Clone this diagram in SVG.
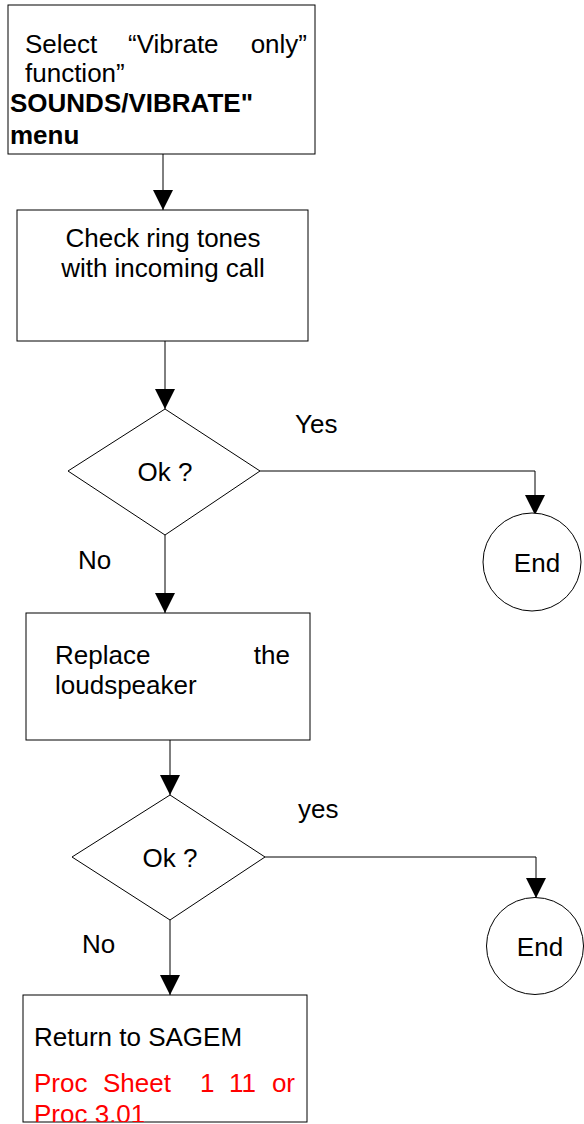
<svg xmlns="http://www.w3.org/2000/svg" width="584" height="1124" viewBox="0 0 584 1124">
<style>
.box{fill:#fff;stroke:#000;stroke-width:1}
.ln{fill:none;stroke:#000;stroke-width:1}
text{font-family:"Liberation Sans",Arial,sans-serif;font-size:26px;fill:#000}
.b{font-weight:bold}
.red{fill:#ff0000}
</style>
<defs>
<marker id="ah" markerUnits="userSpaceOnUse" markerWidth="22" markerHeight="22" viewBox="0 0 22 22" refX="20" refY="11" orient="auto">
<path d="M0,1 L20,11 L0,21 Z" fill="#000"/>
</marker>
<clipPath id="c4"><rect x="23" y="995" width="284" height="127"/></clipPath>
</defs>
<g id="connectors">
<path class="ln" d="M163,154 V210" marker-end="url(#ah)"/>
<path class="ln" d="M165,341 V409" marker-end="url(#ah)"/>
<path class="ln" d="M260,471 H535 V515" marker-end="url(#ah)"/>
<path class="ln" d="M165,535 V613" marker-end="url(#ah)"/>
<path class="ln" d="M170,740 V795" marker-end="url(#ah)"/>
<path class="ln" d="M265,857 H536 V898" marker-end="url(#ah)"/>
<path class="ln" d="M170,920 V995" marker-end="url(#ah)"/>
<text x="295" y="433">Yes</text>
<text x="78" y="569">No</text>
<text x="298" y="818">yes</text>
<text x="82" y="953">No</text>
</g>
<g id="n1">
<rect class="box" x="8" y="5" width="307" height="149"/>
<text x="25" y="53">Select</text>
<text x="128" y="53">“Vibrate</text>
<text x="307" y="53" text-anchor="end">only”</text>
<text x="25" y="82">function”</text>
<text class="b" x="10" y="112">SOUNDS/VIBRATE"</text>
<text class="b" x="10" y="144">menu</text>
</g>
<g id="n2">
<rect class="box" x="17" y="210" width="291" height="131"/>
<text x="163" y="247" text-anchor="middle">Check ring tones</text>
<text x="163" y="277" text-anchor="middle">with incoming call</text>
</g>
<g id="n3">
<polygon class="box" points="165,409 260,471 165,535 68,471"/>
<text x="165" y="481" text-anchor="middle">Ok ?</text>
</g>
<g id="n4">
<circle class="box" cx="532" cy="562" r="49"/>
<text x="537" y="572" text-anchor="middle">End</text>
</g>
<g id="n5">
<rect class="box" x="26" y="613" width="284" height="127"/>
<text x="55" y="664">Replace</text>
<text x="290" y="664" text-anchor="end">the</text>
<text x="55" y="694">loudspeaker</text>
</g>
<g id="n6">
<polygon class="box" points="170,795 265,857 170,920 72,857"/>
<text x="170" y="867" text-anchor="middle">Ok ?</text>
</g>
<g id="n7">
<circle class="box" cx="535" cy="946" r="48.5"/>
<text x="540" y="956" text-anchor="middle">End</text>
</g>
<g id="n8">
<rect class="box" x="23" y="995" width="284" height="127"/>
<g clip-path="url(#c4)">
<text x="34" y="1046">Return to SAGEM</text>
<text class="red" x="34" y="1092">Proc</text>
<text class="red" x="103" y="1092">Sheet</text>
<text class="red" x="200" y="1092">1</text>
<text class="red" x="229" y="1092">11</text>
<text class="red" x="295" y="1092" text-anchor="end">or</text>
<text class="red" x="34" y="1123">Proc 3.01</text>
</g>
</g>
</svg>
